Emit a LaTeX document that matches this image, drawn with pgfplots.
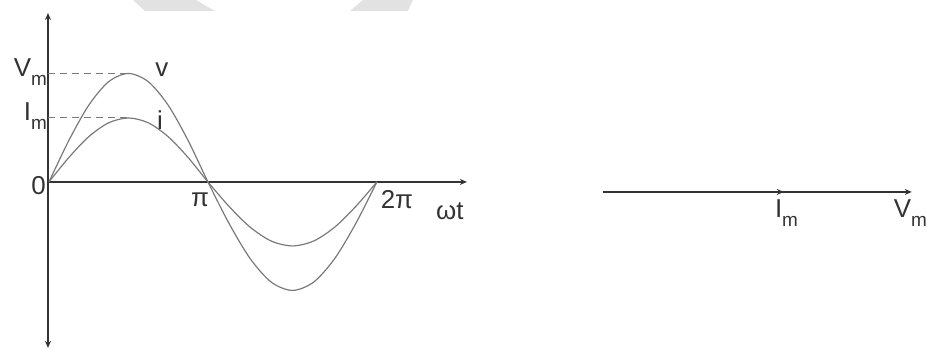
\documentclass[border=0pt]{standalone}
\usepackage{pgfplots}
\pgfplotsset{compat=1.18}
\usepackage{fontspec}
\setmainfont{Liberation Sans}
\usetikzlibrary{arrows.meta}
\definecolor{axc}{HTML}{333333}
\definecolor{crv}{HTML}{7A7A7A}
\definecolor{wm}{HTML}{E2E2E2}
\newcommand{\sub}[1]{\raisebox{-0.35em}{\fontsize{19}{20}\selectfont #1}}
\tikzset{lbl/.style={font=\fontsize{26}{28}\selectfont, text=axc, inner sep=0pt}}
\begin{document}
\begin{tikzpicture}
\begin{axis}[
  scale only axis, width=927bp, height=350bp,
  xmin=0, xmax=927, ymin=0, ymax=350,
  hide axis, clip=false,
]
\path (axis cs:0,0) rectangle (axis cs:927,350);
% watermark shapes
\addplot[fill=wm, draw=none] coordinates {(133,350) (196,350) (215,339) (145,339)} --cycle;
\addplot[fill=wm, draw=none] coordinates {(363,350) (413,350) (408,339) (350,339)} --cycle;
% axes
\addplot[axc, line width=1.4bp, -{Stealth[length=7bp,width=6bp]}] coordinates {(48,168) (48,337)};
\addplot[axc, line width=1.4bp, -{Stealth[length=7bp,width=6bp]}] coordinates {(48,168) (48,2)};
\addplot[axc, line width=1.4bp, -{Stealth[length=7bp,width=6bp]}] coordinates {(48,168) (467,168)};
% dashed guides
\addplot[crv, line width=1bp, dash pattern=on 7bp off 5bp] coordinates {(48,276.5) (128,276.5)};
\addplot[crv, line width=1bp, dash pattern=on 7bp off 5bp] coordinates {(48,232) (128,232)};
% v curve
\addplot[crv, line width=1.2bp, smooth] coordinates {
(49,168) (68.875,209.52) (88.75,244.72) (108.625,268.24) (128.5,276.5)
(148.375,268.24) (168.25,244.72) (188.125,209.52) (208,168)
(229.125,126.48) (250.25,91.28) (271.375,67.76) (292.5,59.5)
(313.625,67.76) (334.75,91.28) (355.875,126.48) (377,168)};
% i curve
\addplot[crv, line width=1.2bp, smooth] coordinates {
(49,168) (68.875,192.49) (88.75,213.25) (108.625,227.13) (128.5,232)
(148.375,227.13) (168.25,213.25) (188.125,192.49) (208,168)
(229.125,143.51) (250.25,122.75) (271.375,108.87) (292.5,104)
(313.625,108.87) (334.75,122.75) (355.875,143.51) (377,168)};
% phasor
\addplot[axc, line width=1.4bp, -{Stealth[length=7bp,width=6bp]}] coordinates {(603,158) (912,158)};
\addplot[axc, line width=1.4bp, -{Stealth[length=7bp,width=6bp]}] coordinates {(603,158) (784,158)};
% labels
\node[lbl, anchor=east] at (axis cs:47,278) {V\sub{m}};
\node[lbl, anchor=east] at (axis cs:47,234) {I\sub{m}};
\node[lbl, anchor=east] at (axis cs:46,164) {0};
\node[lbl] at (axis cs:162,280) {v};
\node[lbl] at (axis cs:160,230) {i};
\node[lbl] at (axis cs:200,150) {π};
\node[lbl] at (axis cs:397,150) {2π};
\node[lbl] at (axis cs:450,139) {ωt};
\node[lbl, anchor=west] at (axis cs:775,137) {I\sub{m}};
\node[lbl, anchor=west] at (axis cs:894,137) {V\sub{m}};
\end{axis}
\end{tikzpicture}
\end{document}
